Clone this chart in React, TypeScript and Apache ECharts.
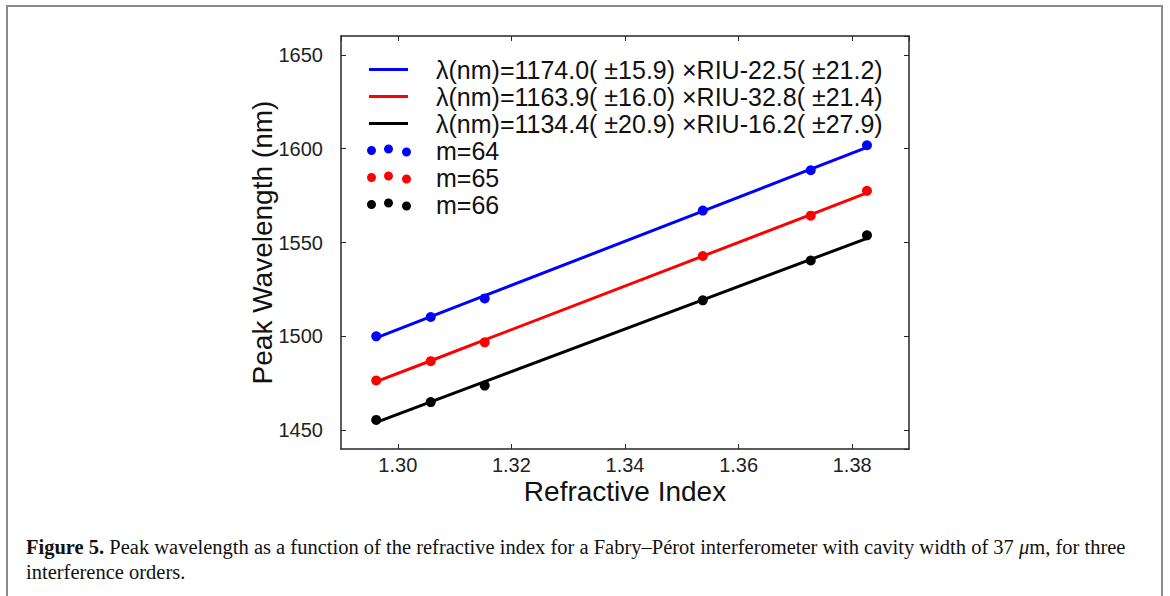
import React, { useEffect, useRef } from 'react';
import * as echarts from 'echarts';

const refractiveIndex = [1.2962, 1.3058, 1.3153, 1.3537, 1.3727, 1.3826];
const m64 = [1500.0, 1510.3, 1520.2, 1567.0, 1588.5, 1601.8];
const m65 = [1476.5, 1486.8, 1496.8, 1542.8, 1564.3, 1577.5];
const m66 = [1455.5, 1465.0, 1473.8, 1519.2, 1540.4, 1553.8];
const fitSlopes = [1174.0, 1163.9, 1134.4];
const fitIntercepts = [-22.5, -32.8, -16.2];
const fitLabels = [
  'λ(nm)=1174.0( ±15.9) ×RIU-22.5( ±21.2)',
  'λ(nm)=1163.9( ±16.0) ×RIU-32.8( ±21.4)',
  'λ(nm)=1134.4( ±20.9) ×RIU-16.2( ±27.9)',
];
const orderLabels = ['m=64', 'm=65', 'm=66'];
const orderValues = [m64, m65, m66];
const colors = ['#0000ff', '#ff0000', '#000000'];
const xTitle = 'Refractive Index';
const yTitle = 'Peak Wavelength (nm)';
const captionLine1 =
  '{b|Figure 5.} Peak wavelength as a function of the refractive index for a Fabry–Pérot interferometer with cavity width of 37 {i|μ}m, for three';
const captionLine2 = 'interference orders.';

const SANS = 'Liberation Sans, Arial, sans-serif';
const SERIF = 'Liberation Serif, Times New Roman, serif';
const AXIS_COLOR = '#262626';
const CAP_SIZE = 20.5;
const dotsIcon =
  'path://M0,6a4.5,4.5 0 1,0 9,0a4.5,4.5 0 1,0 -9,0ZM17,4.5a4.5,4.5 0 1,0 9,0a4.5,4.5 0 1,0 -9,0ZM35,7.5a4.5,4.5 0 1,0 9,0a4.5,4.5 0 1,0 -9,0Z';

export default function App() {
  const ref = useRef<HTMLDivElement>(null);
  useEffect(() => {
    if (!ref.current) return;
    const chart = echarts.init(ref.current, null, { renderer: 'svg' });

    const fitSeries = fitLabels.map((name, i) => ({
      name,
      type: 'line',
      data: refractiveIndex.map((x) => [x, fitSlopes[i] * x + fitIntercepts[i]]),
      symbol: 'none',
      lineStyle: { color: colors[i], width: 3 },
      itemStyle: { color: colors[i] },
      z: 2,
    }));
    const pointSeries = orderLabels.map((name, i) => ({
      name,
      type: 'scatter',
      data: refractiveIndex.map((x, j) => [x, orderValues[i][j]]),
      symbol: 'circle',
      symbolSize: 10,
      itemStyle: { color: colors[i], opacity: 1 },
      z: 3,
    }));

    const commonAxisLine = { show: true, onZero: false, lineStyle: { color: AXIS_COLOR, width: 1.5 } };
    const commonTick = { show: true, inside: true, length: 5, lineStyle: { color: AXIS_COLOR, width: 1 } };

    chart.setOption({
      animation: false,
      backgroundColor: '#ffffff',
      grid: { left: 341, top: 36, right: 261, bottom: 147, containLabel: false },
      xAxis: [
        {
          type: 'value',
          position: 'bottom',
          min: 1.29,
          max: 1.39,
          splitNumber: 5,
          axisLine: commonAxisLine,
          axisTick: commonTick,
          splitLine: { show: false },
          axisLabel: {
            show: true,
            margin: 6,
            color: '#222',
            fontSize: 20,
            fontFamily: SANS,
            showMinLabel: false,
            showMaxLabel: false,
            formatter: (v: number) => v.toFixed(2),
          },
          name: xTitle,
          nameLocation: 'middle',
          nameGap: 28,
          nameMoveOverlap: false,
          nameTextStyle: { fontSize: 28, color: '#111', fontFamily: SANS },
        },
        {
          type: 'value',
          position: 'top',
          min: 1.29,
          max: 1.39,
          splitNumber: 5,
          axisLine: commonAxisLine,
          axisTick: commonTick,
          splitLine: { show: false },
          axisLabel: { show: false },
        },
      ],
      yAxis: [
        {
          type: 'value',
          position: 'left',
          min: 1440,
          max: 1660,
          splitNumber: 5,
          axisLine: commonAxisLine,
          axisTick: commonTick,
          splitLine: { show: false },
          axisLabel: {
            show: true,
            margin: 18,
            color: '#222',
            fontSize: 20,
            fontFamily: SANS,
            showMinLabel: false,
            showMaxLabel: false,
            formatter: (v: number) => String(v),
          },
          name: yTitle,
          nameLocation: 'middle',
          nameGap: 65,
          nameRotate: 90,
          nameMoveOverlap: false,
          nameTextStyle: { fontSize: 28, color: '#111', fontFamily: SANS },
        },
        {
          type: 'value',
          position: 'right',
          min: 1440,
          max: 1660,
          splitNumber: 5,
          axisLine: commonAxisLine,
          axisTick: commonTick,
          splitLine: { show: false },
          axisLabel: { show: false },
        },
      ],
      legend: [
        {
          orient: 'vertical',
          left: 369,
          top: 56,
          padding: 0,
          itemGap: 0,
          itemWidth: 39,
          itemHeight: 3,
          icon: 'rect',
          selectedMode: false,
          data: fitLabels,
          textStyle: {
            fontSize: 25,
            lineHeight: 27,
            color: '#111',
            fontFamily: SANS,
            padding: [0, 0, 0, 23],
          },
        },
        {
          orient: 'vertical',
          left: 367,
          top: 137,
          padding: 0,
          itemGap: 0,
          itemWidth: 44,
          itemHeight: 12,
          icon: dotsIcon,
          selectedMode: false,
          data: orderLabels,
          textStyle: {
            fontSize: 25,
            lineHeight: 27,
            color: '#111',
            fontFamily: SANS,
            padding: [0, 0, 0, 20],
          },
        },
      ],
      graphic: [
        {
          type: 'rect',
          shape: { x: 7, y: 6, width: 1155, height: 620 },
          style: { fill: 'none', stroke: '#8c8c8c', lineWidth: 2 },
          silent: true,
        },
        {
          type: 'text',
          x: 26,
          y: 547,
          style: {
            text: captionLine1,
            fontFamily: SERIF,
            fontSize: CAP_SIZE,
            fill: '#111',
            verticalAlign: 'middle',
            rich: {
              b: { fontWeight: 'bold', fontFamily: SERIF, fontSize: CAP_SIZE, fill: '#111' },
              i: { fontStyle: 'italic', fontFamily: SERIF, fontSize: CAP_SIZE, fill: '#111' },
            },
          },
        },
        {
          type: 'text',
          x: 26,
          y: 572,
          style: {
            text: captionLine2,
            fontFamily: SERIF,
            fontSize: CAP_SIZE,
            fill: '#111',
            verticalAlign: 'middle',
          },
        },
      ],
      series: [...fitSeries, ...pointSeries],
    });

    return () => chart.dispose();
  }, []);

  return (
    <div
      ref={ref}
      style={{ position: 'absolute', left: 0, top: 0, width: 1170, height: 596, background: '#fff' }}
    />
  );
}
